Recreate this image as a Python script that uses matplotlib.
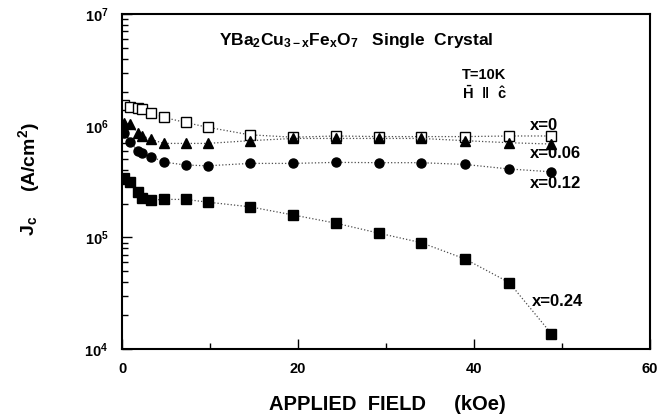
import numpy as np
import matplotlib
matplotlib.use("Agg")
import matplotlib.pyplot as plt
from matplotlib.ticker import FixedLocator, FixedFormatter, NullFormatter

plt.rcParams['font.family'] = ['Liberation Sans', 'DejaVu Sans']
plt.rcParams['font.weight'] = 'bold'
plt.rcParams['mathtext.fontset'] = 'custom'
plt.rcParams['mathtext.rm'] = 'Liberation Sans:bold'
plt.rcParams['mathtext.it'] = 'Liberation Sans:bold'
plt.rcParams['mathtext.bf'] = 'Liberation Sans:bold'

# applied field (kOe)
H_low = [0.2, 0.9, 1.8, 2.3, 3.3, 4.7, 7.2, 9.7]
H_high = [14.5, 19.4, 24.3, 29.2, 34.0, 39.0, 44.0, 48.8]

# Jc (A/cm^2) for each Fe content
jc_x000 = [1.53e6, 1.48e6, 1.43e6, 1.41e6, 1.31e6, 1.19e6, 1.07e6, 9.7e5,
           8.3e5, 7.9e5, 8.1e5, 8.0e5, 8.0e5, 8.0e5, 8.1e5, 8.1e5]
jc_x006 = [1.06e6, 1.03e6, 8.6e5, 8.1e5, 7.55e5, 6.95e5, 6.95e5, 6.95e5,
           7.35e5, 7.7e5, 7.7e5, 7.7e5, 7.7e5, 7.35e5, 7.05e5, 6.86e5]
jc_x012 = [8.55e5, 7.15e5, 5.9e5, 5.7e5, 5.3e5, 4.73e5, 4.45e5, 4.38e5,
           4.6e5, 4.6e5, 4.7e5, 4.67e5, 4.67e5, 4.5e5, 4.1e5, 3.87e5]
jc_x024 = [3.38e5, 3.15e5, 2.54e5, 2.27e5, 2.16e5, 2.19e5, 2.19e5, 2.07e5,
           1.88e5, 1.59e5, 1.34e5, 1.09e5, 8.97e4, 6.4e4, 3.94e4, 1.37e4]

H = H_low + H_high

fig = plt.figure(figsize=(6.62, 4.16), dpi=100)
ax = fig.add_axes([0.1847, 0.161, 0.797, 0.805])

line_kw = dict(linestyle=':', linewidth=0.9, color='0.3', markersize=6.5)
ax.plot(H, jc_x000, marker='s', markerfacecolor='white', markeredgecolor='black',
        markeredgewidth=1.0, **line_kw)
ax.plot(H, jc_x006, marker='^', markerfacecolor='black', markeredgecolor='black', **line_kw)
ax.plot(H, jc_x012, marker='o', markerfacecolor='black', markeredgecolor='black', **line_kw)
ax.plot(H, jc_x024, marker='s', markerfacecolor='black', markeredgecolor='black', **line_kw)

ax.set_yscale('log')
ax.set_xlim(0, 60)
ax.set_ylim(1e4, 1e7)

ax.xaxis.set_major_locator(FixedLocator([0, 20, 40, 60]))
ax.xaxis.set_minor_locator(FixedLocator([10, 30, 50]))
ax.set_xticklabels(['0', '20', '40', '60'])
ax.yaxis.set_major_locator(FixedLocator([1e4, 1e5, 1e6, 1e7]))
ax.yaxis.set_major_formatter(FixedFormatter([r'$\mathregular{10^{4}}$', r'$\mathregular{10^{5}}$',
                                             r'$\mathregular{10^{6}}$', r'$\mathregular{10^{7}}$']))
minors = [m * 10 ** e for e in range(4, 7) for m in range(2, 10)]
ax.yaxis.set_minor_locator(FixedLocator(minors))
ax.yaxis.set_minor_formatter(NullFormatter())

ax.tick_params(which='both', direction='in', top=False, right=False, labelsize=10.5, width=1.0)
ax.tick_params(axis='y', which='major', length=7, pad=10)
ax.tick_params(axis='y', which='minor', length=4)
ax.tick_params(axis='x', which='major', length=7, pad=9)
ax.tick_params(axis='x', which='minor', length=4)
for s in ax.spines.values():
    s.set_linewidth(1.5)

ax.text(0.443, 0.922, r'YBa$_\mathregular{2}$Cu$_\mathregular{3-x}$Fe$_\mathregular{x}$O$_\mathregular{7}$   Single  Crystal',
        transform=ax.transAxes, ha='center', va='center', fontsize=12.5)
ax.text(0.643, 0.818, 'T=10K', transform=ax.transAxes, ha='left', va='center', fontsize=10.5)
ax.text(0.643, 0.764, r'$\mathregular{\bar{H}\ \ \Vert\ \ \hat{c}}$', transform=ax.transAxes,
        ha='left', va='center', fontsize=10.5)

ax.text(0.773, 0.666, 'x=0', transform=ax.transAxes, ha='left', va='center', fontsize=12)
ax.text(0.773, 0.585, 'x=0.06', transform=ax.transAxes, ha='left', va='center', fontsize=12)
ax.text(0.773, 0.493, 'x=0.12', transform=ax.transAxes, ha='left', va='center', fontsize=12)
ax.text(0.777, 0.143, 'x=0.24', transform=ax.transAxes, ha='left', va='center', fontsize=12)

ax.text(0.503, -0.167, 'APPLIED  FIELD     (kOe)', transform=ax.transAxes,
        ha='center', va='center', fontsize=14.5)
ax.text(-0.176, 0.367, r'J$_\mathregular{c}$', transform=ax.transAxes, rotation=90,
        ha='center', va='center', fontsize=14)
ax.text(-0.176, 0.573, r'(A/cm$^\mathregular{2}$)', transform=ax.transAxes, rotation=90,
        ha='center', va='center', fontsize=14)

fig.savefig('out.png', dpi=100)
